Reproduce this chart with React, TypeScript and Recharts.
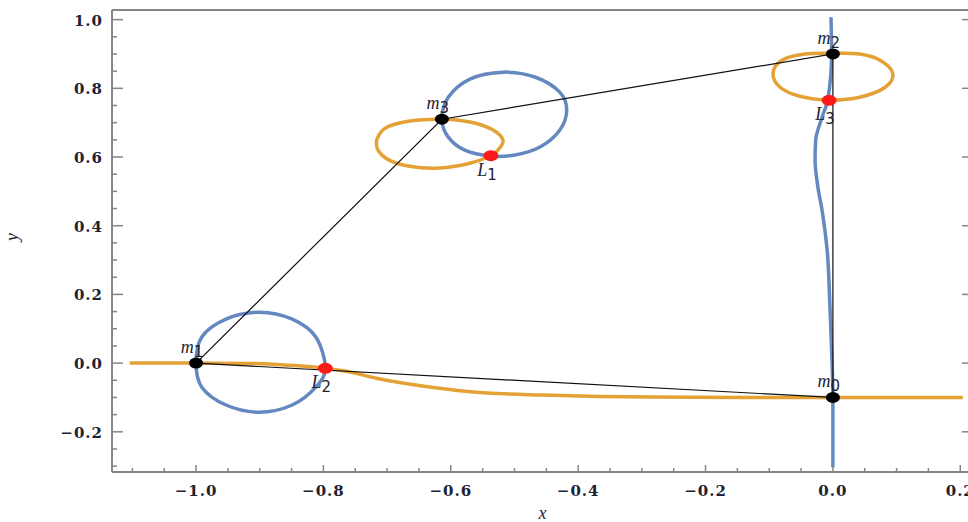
import { ComposedChart, Line, Scatter, XAxis, YAxis } from "recharts";

// tick values (every 0.05, labelled every 0.2)
const xTicks = [
  -1.1, -1.05, -1.0, -0.95, -0.9, -0.85, -0.8, -0.75, -0.7, -0.65, -0.6, -0.55, -0.5, -0.45,
  -0.4, -0.35, -0.3, -0.25, -0.2, -0.15, -0.1, -0.05, 0.0, 0.05, 0.1, 0.15, 0.2,
];
const yTicks = [
  -0.3, -0.25, -0.2, -0.15, -0.1, -0.05, 0.0, 0.05, 0.1, 0.15, 0.2, 0.25, 0.3, 0.35, 0.4,
  0.45, 0.5, 0.55, 0.6, 0.65, 0.7, 0.75, 0.8, 0.85, 0.9, 0.95, 1.0,
];

// orange curves
const orangeTrack = [
  { x: -1.104, y: 0 }, { x: -1.0, y: 0 }, { x: -0.915, y: -0.001 }, { x: -0.856, y: -0.006 },
  { x: -0.797, y: -0.015 }, { x: -0.758, y: -0.026 }, { x: -0.717, y: -0.044 },
  { x: -0.631, y: -0.07 }, { x: -0.543, y: -0.087 }, { x: -0.457, y: -0.093 },
  { x: -0.366, y: -0.097 }, { x: -0.284, y: -0.099 }, { x: -0.146, y: -0.1 },
  { x: 0, y: -0.1 }, { x: 0.204, y: -0.1 },
];
const orangeLoopM3 = [
  { x: -0.614, y: 0.71 }, { x: -0.57, y: 0.702 }, { x: -0.535, y: 0.68 }, { x: -0.518, y: 0.649 },
  { x: -0.526, y: 0.62 }, { x: -0.538, y: 0.603 }, { x: -0.57, y: 0.582 }, { x: -0.617, y: 0.568 },
  { x: -0.667, y: 0.574 }, { x: -0.703, y: 0.598 }, { x: -0.717, y: 0.64 }, { x: -0.703, y: 0.684 },
  { x: -0.664, y: 0.705 }, { x: -0.614, y: 0.71 },
];
const orangeLoopM2 = [
  { x: 0, y: 0.902 }, { x: 0.042, y: 0.9 }, { x: 0.074, y: 0.882 }, { x: 0.094, y: 0.844 },
  { x: 0.082, y: 0.803 }, { x: 0.042, y: 0.774 }, { x: -0.006, y: 0.766 }, { x: -0.052, y: 0.777 },
  { x: -0.083, y: 0.803 }, { x: -0.094, y: 0.844 }, { x: -0.08, y: 0.882 }, { x: -0.044, y: 0.9 },
  { x: 0, y: 0.902 },
];

// blue curves
const blueLoopM1 = [
  { x: -1.0, y: 0 }, { x: -0.991, y: 0.076 }, { x: -0.953, y: 0.128 }, { x: -0.901, y: 0.148 },
  { x: -0.849, y: 0.128 }, { x: -0.812, y: 0.076 }, { x: -0.797, y: -0.015 }, { x: -0.812, y: -0.07 },
  { x: -0.849, y: -0.122 }, { x: -0.901, y: -0.143 }, { x: -0.953, y: -0.122 }, { x: -0.991, y: -0.07 },
  { x: -1.0, y: 0 },
];
const blueLoopM3 = [
  { x: -0.614, y: 0.71 }, { x: -0.604, y: 0.774 }, { x: -0.57, y: 0.827 }, { x: -0.518, y: 0.847 },
  { x: -0.468, y: 0.833 }, { x: -0.429, y: 0.789 }, { x: -0.418, y: 0.737 }, { x: -0.429, y: 0.678 },
  { x: -0.46, y: 0.629 }, { x: -0.499, y: 0.606 }, { x: -0.538, y: 0.603 }, { x: -0.578, y: 0.62 },
  { x: -0.604, y: 0.658 }, { x: -0.614, y: 0.71 },
];
const blueTrack = [
  { x: -0.003, y: 1.007 }, { x: -0.002, y: 0.902 }, { x: -0.008, y: 0.766 }, { x: -0.017, y: 0.716 },
  { x: -0.027, y: 0.649 }, { x: -0.028, y: 0.591 }, { x: -0.024, y: 0.518 }, { x: -0.017, y: 0.445 },
  { x: -0.009, y: 0.329 }, { x: -0.005, y: 0.183 }, { x: -0.002, y: 0.038 }, { x: 0, y: -0.099 },
  { x: 0, y: -0.303 },
];

// black polygon m1 -> m3 -> m2 -> m0 -> m1
const frameLines = [
  { x: -1.0, y: 0 }, { x: -0.614, y: 0.71 }, { x: 0, y: 0.9 }, { x: 0, y: -0.1 }, { x: -1.0, y: 0 },
];

const masses = [
  { x: 0, y: -0.1, sub: "0" },
  { x: -1.0, y: 0, sub: "1" },
  { x: 0, y: 0.9, sub: "2" },
  { x: -0.614, y: 0.71, sub: "3" },
];
const lagrange = [
  { x: -0.537, y: 0.604, sub: "1" },
  { x: -0.797, y: -0.015, sub: "2" },
  { x: -0.006, y: 0.765, sub: "3" },
];

const BLUE = "#6389c0";
const ORANGE = "#e3a136";
const FRAME = "#858585";
const TEXT = "#1e2233";

// smooth closed curve (Catmull-Rom) for the loops
function closedSmooth(context: any) {
  let pts: number[][] = [];
  return {
    areaStart() {},
    areaEnd() {},
    lineStart() {
      pts = [];
    },
    point(x: number, y: number) {
      pts.push([+x, +y]);
    },
    lineEnd() {
      let p = pts;
      const a = p[0];
      const b = p[p.length - 1];
      if (p.length > 3 && Math.abs(a[0] - b[0]) < 0.5 && Math.abs(a[1] - b[1]) < 0.5) p = p.slice(0, -1);
      const n = p.length;
      if (n === 0) return;
      context.moveTo(p[0][0], p[0][1]);
      for (let i = 0; i < n; i++) {
        const p0 = p[(i - 1 + n) % n];
        const p1 = p[i];
        const p2 = p[(i + 1) % n];
        const p3 = p[(i + 2) % n];
        context.bezierCurveTo(
          p1[0] + (p2[0] - p0[0]) / 6,
          p1[1] + (p2[1] - p0[1]) / 6,
          p2[0] - (p3[0] - p1[0]) / 6,
          p2[1] - (p3[1] - p1[1]) / 6,
          p2[0],
          p2[1]
        );
      }
      context.closePath();
    },
  };
}

const isMajor = (v: number) => Math.abs(v * 5 - Math.round(v * 5)) < 1e-6;
const fmt = (v: number) => (v < -1e-9 ? "\u2212" + Math.abs(v).toFixed(1) : Math.abs(v).toFixed(1));

const tickFont = {
  fontFamily: "'DejaVu Serif', serif",
  fontWeight: 700,
  fontSize: 15,
  letterSpacing: 1,
  fill: TEXT,
};

const BottomTick = (props: any) => {
  const { x, y, payload } = props;
  const major = isMajor(payload.value);
  return (
    <g>
      <line x1={x} x2={x} y1={y} y2={y - (major ? 7 : 4)} stroke={FRAME} strokeWidth={1.5} />
      {major && (
        <text x={x} y={y + 24} textAnchor="middle" style={tickFont}>
          {fmt(payload.value)}
        </text>
      )}
    </g>
  );
};

const TopTick = (props: any) => {
  const { x, y, payload } = props;
  const major = isMajor(payload.value);
  return <line x1={x} x2={x} y1={y} y2={y + (major ? 7 : 4)} stroke={FRAME} strokeWidth={1.5} />;
};

const LeftTick = (props: any) => {
  const { x, y, payload } = props;
  const major = isMajor(payload.value);
  return (
    <g>
      <line x1={x} x2={x + (major ? 11 : 5)} y1={y} y2={y} stroke={FRAME} strokeWidth={1.5} />
      {major && (
        <text x={x - 9} y={y + 6} textAnchor="end" style={tickFont}>
          {fmt(payload.value)}
        </text>
      )}
    </g>
  );
};

const RightTick = (props: any) => {
  const { x, y, payload } = props;
  const major = isMajor(payload.value);
  return <line x1={x} x2={x - (major ? 11 : 5)} y1={y} y2={y} stroke={FRAME} strokeWidth={1.5} />;
};

const pointLabel = (cx: number, cy: number, main: string, sub: string, above: boolean) => (
  <text
    x={cx - 4}
    y={above ? cy - 10 : cy + 20}
    textAnchor="middle"
    fill={TEXT}
    style={{ fontFamily: "'Liberation Serif', serif", fontStyle: "italic", fontSize: 18 }}
  >
    {main}
    <tspan dy={4} style={{ fontFamily: "'DejaVu Sans', sans-serif", fontStyle: "normal", fontSize: 15 }}>
      {sub}
    </tspan>
  </text>
);

const MassDot = (props: any) => {
  const { cx, cy, payload } = props;
  return (
    <g>
      <ellipse cx={cx} cy={cy} rx={7} ry={5.5} fill="#000" />
      {pointLabel(cx, cy, "m", payload.sub, true)}
    </g>
  );
};

const LagrangeDot = (props: any) => {
  const { cx, cy, payload } = props;
  return (
    <g>
      <ellipse cx={cx} cy={cy} rx={7.5} ry={5.5} fill="#ff1a1a" />
      {pointLabel(cx, cy, "L", payload.sub, false)}
    </g>
  );
};

const axisLabelStyle = {
  fontFamily: "'Liberation Serif', serif",
  fontStyle: "italic",
  fontSize: 18,
  fill: TEXT,
};

export default function App() {
  return (
    <div
      style={{
        position: "absolute",
        left: 0,
        top: 0,
        width: 968,
        height: 522,
        overflow: "hidden",
        background: "#fff",
      }}
    >
      <ComposedChart width={980} height={522} margin={{ top: 0, right: 0, bottom: 0, left: 0 }}>
        <XAxis
          type="number"
          dataKey="x"
          domain={[-1.132, 0.22]}
          allowDataOverflow
          ticks={xTicks}
          interval={0}
          height={50}
          tickSize={0}
          tickMargin={0}
          tickLine={false}
          tick={BottomTick}
          axisLine={{ stroke: FRAME, strokeWidth: 2 }}
          label={{ value: "x", position: "insideBottom", offset: 3, style: axisLabelStyle }}
        />
        <XAxis
          xAxisId="top"
          orientation="top"
          type="number"
          domain={[-1.132, 0.22]}
          allowDataOverflow
          ticks={xTicks}
          interval={0}
          height={10}
          tickSize={0}
          tickMargin={0}
          tickLine={false}
          tick={TopTick}
          axisLine={{ stroke: FRAME, strokeWidth: 2 }}
        />
        <YAxis
          type="number"
          dataKey="y"
          domain={[-0.317, 1.028]}
          allowDataOverflow
          ticks={yTicks}
          interval={0}
          width={112}
          tickSize={0}
          tickMargin={0}
          tickLine={false}
          tick={LeftTick}
          axisLine={{ stroke: FRAME, strokeWidth: 2 }}
          label={{ value: "y", position: "insideLeft", angle: -90, offset: 12, style: axisLabelStyle }}
        />
        <YAxis
          yAxisId="right"
          orientation="right"
          type="number"
          domain={[-0.317, 1.028]}
          allowDataOverflow
          ticks={yTicks}
          interval={0}
          width={7}
          tickSize={0}
          tickMargin={0}
          tickLine={false}
          tick={RightTick}
          axisLine={{ stroke: FRAME, strokeWidth: 2 }}
        />

        <Line data={orangeTrack} dataKey="y" type="monotone" stroke={ORANGE} strokeWidth={3.5} dot={false} isAnimationActive={false} />
        <Line data={orangeLoopM3} dataKey="y" type={closedSmooth as any} stroke={ORANGE} strokeWidth={3.5} dot={false} isAnimationActive={false} />
        <Line data={orangeLoopM2} dataKey="y" type={closedSmooth as any} stroke={ORANGE} strokeWidth={3.5} dot={false} isAnimationActive={false} />
        <Line data={blueLoopM1} dataKey="y" type={closedSmooth as any} stroke={BLUE} strokeWidth={3.5} dot={false} isAnimationActive={false} />
        <Line data={blueLoopM3} dataKey="y" type={closedSmooth as any} stroke={BLUE} strokeWidth={3.5} dot={false} isAnimationActive={false} />
        <Line data={blueTrack} dataKey="y" type="monotoneY" stroke={BLUE} strokeWidth={3.5} dot={false} isAnimationActive={false} />
        <Line data={frameLines} dataKey="y" type="linear" stroke="#111" strokeWidth={1.2} dot={false} isAnimationActive={false} />

        <Scatter data={lagrange} dataKey="y" shape={LagrangeDot} isAnimationActive={false} />
        <Scatter data={masses} dataKey="y" shape={MassDot} isAnimationActive={false} />
      </ComposedChart>
    </div>
  );
}
